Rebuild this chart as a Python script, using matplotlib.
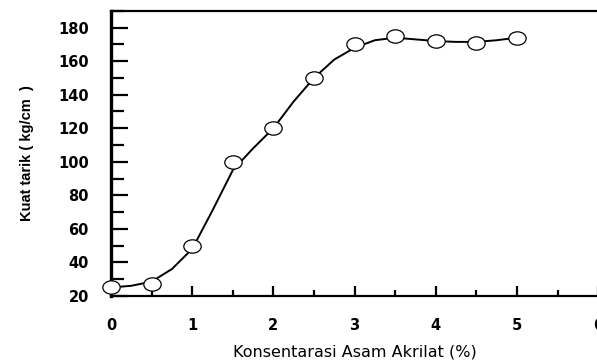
import matplotlib
matplotlib.use("Agg")
import matplotlib.pyplot as plt
from matplotlib.path import Path
from matplotlib.transforms import Affine2D
from matplotlib.ticker import MultipleLocator

# data
konsentrasi = [0, 0.5, 1, 1.5, 2, 2.5, 3, 3.5, 4, 4.5, 5]
kuat_tarik = [25, 27, 50, 100, 120, 150, 170, 175, 172, 171, 174]

# smooth fitted curve
kurva_x = [0, 0.25, 0.5, 0.75, 1, 1.25, 1.5, 1.75, 2, 2.25, 2.5, 2.75,
           3, 3.25, 3.5, 3.75, 4, 4.25, 4.5, 4.75, 5]
kurva_y = [25, 26, 28.5, 36, 48, 71, 95, 108, 120, 136, 150, 161,
           168, 172.5, 174, 173, 172, 171.5, 171.5, 172.5, 174]

plt.rcParams["font.family"] = "DejaVu Sans"
plt.rcParams["font.weight"] = "bold"

fig = plt.figure(figsize=(5.97, 3.63), dpi=100)
ax = fig.add_axes([0.186, 0.185, 0.816, 0.785])

# marker elips (gambar asli agak melebar)
elips = Path.unit_circle().transformed(Affine2D().scale(1.3, 1.0))

ax.plot(kurva_x, kurva_y, color="black", lw=1.4, zorder=2)
ax.plot(konsentrasi, kuat_tarik, linestyle="none", marker=elips, ms=12.5,
        mfc="white", mec="black", mew=0.9, zorder=3, clip_on=False)

ax.set_xlim(0, 6)
ax.set_ylim(20, 190)
ax.xaxis.set_major_locator(MultipleLocator(1))
ax.xaxis.set_minor_locator(MultipleLocator(0.5))
ax.yaxis.set_major_locator(MultipleLocator(20))
ax.yaxis.set_minor_locator(MultipleLocator(10))
ax.set_yticks([20, 40, 60, 80, 100, 120, 140, 160, 180])

ax.tick_params(axis="y", which="major", direction="in", length=12, width=1.6,
               pad=16, labelsize=10.5)
ax.tick_params(axis="y", which="minor", direction="in", length=9, width=1.6)
ax.tick_params(axis="x", which="major", direction="in", length=7, width=1.6,
               pad=16, labelsize=10.5)
ax.tick_params(axis="x", which="minor", direction="in", length=4.5, width=1.6)

ax.spines["right"].set_visible(False)
ax.spines["left"].set_linewidth(2.4)
ax.spines["bottom"].set_linewidth(1.6)
ax.spines["top"].set_linewidth(1.6)

ax.set_xlabel("Konsentarasi Asam Akrilat (%)", fontsize=11.5, labelpad=8)
ax.set_ylabel("Kuat tarik ( kg/cm  )", fontsize=10.5, fontweight="bold",
              labelpad=17, fontstretch="condensed",
              family=["Liberation Sans Narrow", "Liberation Sans", "DejaVu Sans"])

fig.savefig("out.png", dpi=100)
